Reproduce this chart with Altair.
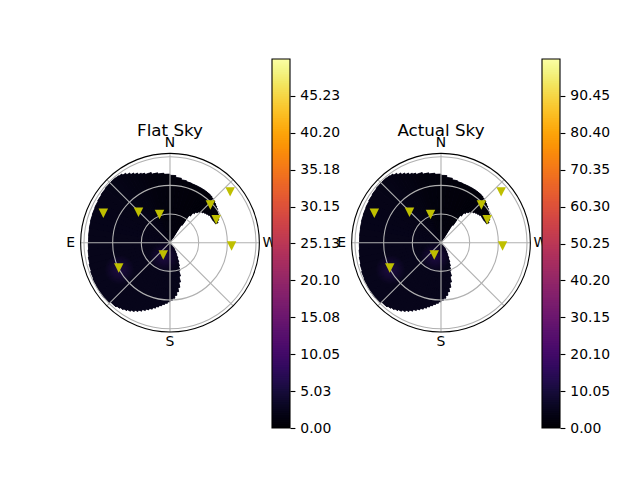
import altair as alt
import pandas as pd

# ---------------- data ----------------
TITLES = ["Flat Sky", "Actual Sky"]

# yellow markers (same positions in both panels): azimuth (deg, N=0, E=90) and zenith distance (deg)
MARK_AZ = [66.1, 46.0, 20.4, 313.0, 310.2, 296.5, 267.0, 151.4, 116.2]
MARK_ZEN = [76.3, 45.8, 31.5, 57.8, 82.4, 54.0, 64.5, 14.7, 59.8]

# filled sky region, by azimuth sector: sector edges (deg), inner / outer zenith distance (deg)
SKY_AZ_FROM = [292.5, 295, 297.5, 300, 302.5, 305, 307.5, 310, 312.5, 315, 317.5, 320, 322.5, 325, 327.5,
               330, 335, 340, 345, 350, 355, 0, 5, 10, 15,
               20, 22.5, 25, 27.5, 30, 32.5, 35, 37.5,
               40, 45, 50, 55, 60, 65, 70, 75, 80, 85, 90, 95, 100, 105, 110, 115, 120, 125, 130, 135,
               140, 142.5, 145, 147.5, 150, 152.5, 155, 157.5, 160, 162.5, 165, 167.5, 170, 172.5, 175, 177.5,
               180, 182.5, 185, 187.5, 190, 192.5, 195, 197.5, 200, 202.5, 205, 207.5, 210, 212.5, 215, 217.5]
SKY_AZ_TO = [295, 297.5, 300, 302.5, 305, 307.5, 310, 312.5, 315, 317.5, 320, 322.5, 325, 327.5, 330,
             335, 340, 345, 350, 355, 360, 5, 10, 15, 20,
             22.5, 25, 27.5, 30, 32.5, 35, 37.5, 40,
             45, 50, 55, 60, 65, 70, 75, 80, 85, 90, 95, 100, 105, 110, 115, 120, 125, 130, 135, 140,
             142.5, 145, 147.5, 150, 152.5, 155, 157.5, 160, 162.5, 165, 167.5, 170, 172.5, 175, 177.5, 180,
             182.5, 185, 187.5, 190, 192.5, 195, 197.5, 200, 202.5, 205, 207.5, 210, 212.5, 215, 217.5, 220]
SKY_R_IN = [51.5, 51.0, 50.5, 50.5, 50.5, 49.5, 48.5, 47.5, 46.0, 44.0, 42.0, 39.5, 35.0, 22.0, 6.0,
            0, 0, 0, 0, 0, 0, 0, 0, 0, 0,
            0, 0, 0, 0, 0, 0, 0, 0,
            0, 0, 0, 0, 0, 0, 0, 0, 0, 0, 0, 0, 0, 0, 0, 0, 0, 0, 0, 0,
            0, 0, 0, 0, 0, 0, 0, 0, 0, 0, 0, 0, 0, 0, 0, 0,
            0, 0, 0, 0, 0, 0, 0, 0, 0, 0, 0, 0, 0, 0, 0, 0]
SKY_R_OUT = [54.5, 56.5, 57.8, 58.8, 60.0, 61.0, 61.8, 62.8, 63.8, 64.6, 65.2, 65.5, 65.6, 65.7, 65.8,
             65.8, 65.8, 66.2, 67.0, 68.5, 70.5, 71.8, 73.0, 74.2, 76.0,
             77.5, 78.8, 80.5, 82.3, 84.3, 86.3, 87.8, 88.4,
             88.6, 88.5, 88.0, 87.4, 86.9, 86.5, 86.2, 85.8, 85.5, 85.3, 85.5, 86.1, 86.8, 87.6, 88.4, 89.1, 89.6, 89.9, 89.4, 87.8,
             86.6, 85.6, 84.3, 82.9, 81.3, 79.5, 77.6, 75.6, 73.8, 72.0, 70.2, 68.4, 66.6, 65.0, 63.5, 62.0,
             60.3, 58.3, 55.5, 52.0, 47.8, 42.5, 36.5, 30.8, 26.0, 22.0, 18.0, 14.0, 11.5, 8.5, 4.5, 1.5]
# colour level of each sector as a fraction of the colour-bar maximum
SKY_LEVEL = [0.010, 0.010, 0.010, 0.010, 0.010, 0.010, 0.010, 0.010, 0.010, 0.010, 0.010, 0.012, 0.012, 0.012, 0.012,
             0.014, 0.014, 0.015, 0.015, 0.016, 0.017, 0.018, 0.019, 0.020, 0.022,
             0.024, 0.026, 0.028, 0.030, 0.032, 0.034, 0.035, 0.036,
             0.038, 0.039, 0.040, 0.041, 0.042, 0.042, 0.043, 0.043, 0.044, 0.044, 0.045, 0.045, 0.046, 0.046, 0.046, 0.047, 0.047, 0.047, 0.047, 0.046,
             0.046, 0.046, 0.046, 0.046, 0.045, 0.045, 0.045, 0.045, 0.045, 0.045, 0.045, 0.045, 0.045, 0.045, 0.045, 0.045,
             0.045, 0.045, 0.045, 0.045, 0.045, 0.045, 0.045, 0.045, 0.045, 0.045, 0.045, 0.045, 0.045, 0.045, 0.045, 0.045]

# faint brighter spots in the sky map
GLOW_AZ = [118.0, 158.0]
GLOW_ZEN = [60.0, 16.0]

RINGS = [30, 60, 90]
SPOKES = [0, 45, 90, 135, 180, 225, 270, 315]
DIR_LABELS = ["N", "E", "S", "W"]
DIR_AZ = [0, 90, 180, 270]
R_MAX = 93.5
LABEL_R = 104.0
TITLE_R = 111.7

CBAR_MAX = [50.25, 100.5]
CBAR_TICKS = [
    [0.00, 5.03, 10.05, 15.08, 20.10, 25.13, 30.15, 35.18, 40.20, 45.23],
    [0.00, 10.05, 20.10, 30.15, 40.20, 50.25, 60.30, 70.35, 80.40, 90.45],
]

# ---------------- layout / style ----------------
K = 0.9556          # pixels per degree of zenith distance
H = 369             # panel height (px)
TOP_OFF, BOT_OFF = 183.7, 185.3
FONT = "DejaVu Sans"
GRID = "#b0b0b0"
MARKER = "#bfbf00"
UNDER = "#07051a"

sky_df = pd.DataFrame({"a0": SKY_AZ_FROM, "a1": SKY_AZ_TO, "r_in": SKY_R_IN,
                       "r_out": SKY_R_OUT, "level": SKY_LEVEL})
mk_df = pd.DataFrame({"az": MARK_AZ, "zen": MARK_ZEN})
glow_df = pd.DataFrame({"az": GLOW_AZ, "zen": GLOW_ZEN})
ring_df = pd.DataFrame({"r": RINGS})
spoke_df = pd.DataFrame({"az": SPOKES})
dir_df = pd.DataFrame({"lab": DIR_LABELS, "az": DIR_AZ})
spine_df = pd.DataFrame({"r": [R_MAX]})

XY_X = "-datum.zen*sin(datum.az*PI/180)"
XY_Y = "datum.zen*cos(datum.az*PI/180)"


def polar_panel(title, left_px, right_px):
    width = left_px + right_px
    xs = alt.Scale(domain=[-left_px / K, right_px / K], nice=False, zero=False)
    ys = alt.Scale(domain=[-BOT_OFF / K, TOP_OFF / K], nice=False, zero=False)
    rs = alt.Scale(type="linear", domain=[0, 90], range=[0, 90 * K], nice=False, zero=True)
    ts = alt.Scale(domain=[0, 360], range=[0, 6.283185307179586], reverse=True, nice=False, zero=False)
    cs = alt.Scale(scheme="inferno", domain=[0, 1])

    def X(f):
        return alt.X(f, type="quantitative", scale=xs, axis=None)

    def Y(f):
        return alt.Y(f, type="quantitative", scale=ys, axis=None)

    sky_base = alt.Chart(sky_df).transform_calculate(cx="0", cy="0")

    # dark under-layer hides the anti-aliasing seams between sectors
    under = sky_base.mark_arc(color=UNDER, stroke=UNDER, strokeWidth=0.8).encode(
        x=X("cx"), y=Y("cy"),
        theta=alt.Theta("a0:Q", scale=ts, stack=False), theta2=alt.Theta2("a1"),
        radius=alt.Radius("r_out:Q", scale=rs), radius2=alt.Radius2("r_in"),
    )
    sky = sky_base.mark_arc(strokeWidth=0).encode(
        x=X("cx"), y=Y("cy"),
        theta=alt.Theta("a0:Q", scale=ts, stack=False), theta2=alt.Theta2("a1"),
        radius=alt.Radius("r_out:Q", scale=rs), radius2=alt.Radius2("r_in"),
        color=alt.Color("level:Q", scale=cs, legend=None),
    )

    glow = alt.Chart(glow_df).transform_calculate(gx=XY_X, gy=XY_Y).mark_point(
        shape="circle", filled=True, size=900, opacity=1, strokeWidth=0,
        fill=alt.RadialGradient(
            gradient="radial",
            stops=[alt.GradientStop(color="rgba(40,14,84,0.7)", offset=0),
                   alt.GradientStop(color="rgba(40,14,84,0)", offset=1)],
            x1=0.5, y1=0.5, r1=0, x2=0.5, y2=0.5, r2=0.5),
    ).encode(x=X("gx"), y=Y("gy"))

    rings = alt.Chart(ring_df).transform_calculate(
        cx="0", cy="0", t0="0", t1="360"
    ).mark_arc(fillOpacity=0, stroke=GRID, strokeWidth=1.1).encode(
        x=X("cx"), y=Y("cy"),
        theta=alt.Theta("t0:Q", scale=ts, stack=False), theta2=alt.Theta2("t1"),
        radius=alt.Radius("r:Q", scale=rs),
    )

    spokes = alt.Chart(spoke_df).transform_calculate(
        x0="0", y0="0",
        x1=f"-{R_MAX}*sin(datum.az*PI/180)", y1=f"{R_MAX}*cos(datum.az*PI/180)"
    ).mark_rule(color=GRID, strokeWidth=1.1).encode(
        x=X("x0"), y=Y("y0"), x2=alt.X2("x1"), y2=alt.Y2("y1")
    )

    spine = alt.Chart(spine_df).transform_calculate(
        cx="0", cy="0", t0="0", t1="360"
    ).mark_arc(fillOpacity=0, stroke="black", strokeWidth=1.1).encode(
        x=X("cx"), y=Y("cy"),
        theta=alt.Theta("t0:Q", scale=ts, stack=False), theta2=alt.Theta2("t1"),
        radius=alt.Radius("r:Q", scale=rs),
    )

    marks = alt.Chart(mk_df).transform_calculate(mx=XY_X, my=XY_Y).mark_point(
        shape="M-1,-1L1,-1L0,1Z", filled=True, size=90, color=MARKER, opacity=1
    ).encode(x=X("mx"), y=Y("my"))

    dirs = alt.Chart(dir_df).transform_calculate(
        lx=f"-{LABEL_R}*sin(datum.az*PI/180)", ly=f"{LABEL_R}*cos(datum.az*PI/180)"
    ).mark_text(font=FONT, fontSize=13.9, color="black", align="center", baseline="middle").encode(
        x=X("lx"), y=Y("ly"), text="lab:N"
    )

    ttl = alt.Chart(pd.DataFrame({"t": [title]})).transform_calculate(
        tx="0", ty=f"{TITLE_R}"
    ).mark_text(font=FONT, fontSize=16.7, color="black", align="center", baseline="alphabetic").encode(
        x=X("tx"), y=Y("ty"), text="t:N"
    )

    return alt.layer(under, sky, glow, rings, spokes, spine, marks, dirs, ttl).properties(width=width, height=H)


def colorbar(vmax, ticks):
    ys = alt.Scale(domain=[0, vmax], nice=False, zero=False)
    ax = alt.Axis(orient="right", values=ticks, format=".2f", labelFont=FONT, labelFontSize=13.9,
                  labelColor="black", tickColor="black", tickWidth=1.1, tickSize=4.9,
                  labelPadding=4.9, domain=False, grid=False, title=None)
    n = 200
    bar = alt.Chart(alt.sequence(0, n, as_="i")).transform_calculate(
        lo=f"datum.i*{vmax}/{n}",
        hi=f"min((datum.i+1.6)*{vmax}/{n}, {vmax})",
        mid=f"(datum.i+0.5)*{vmax}/{n}",
    ).mark_rect().encode(
        y=alt.Y("lo:Q", scale=ys, axis=ax), y2=alt.Y2("hi"),
        x=alt.value(0), x2=alt.value(18),
        color=alt.Color("mid:Q", scale=alt.Scale(scheme="inferno", domain=[0, vmax]), legend=None),
    )
    frame = alt.Chart(pd.DataFrame({"a": [0.0], "b": [vmax]})).mark_rect(
        fillOpacity=0, stroke="black", strokeWidth=1.1
    ).encode(
        y=alt.Y("a:Q", scale=ys, axis=ax), y2=alt.Y2("b"),
        x=alt.value(0), x2=alt.value(18),
    )
    return alt.layer(bar, frame).properties(width=18, height=H)


p1 = polar_panel(TITLES[0], 110, 92)
c1 = colorbar(CBAR_MAX[0], CBAR_TICKS[0])
p2 = polar_panel(TITLES[1], 141, 91)
c2 = colorbar(CBAR_MAX[1], CBAR_TICKS[1])

chart = alt.hconcat(p1, c1, p2, c2, spacing=10, bounds="flush").resolve_scale(
    color="independent"
).properties(
    padding={"left": 52, "top": 50, "right": 4, "bottom": 4}
).configure(font=FONT).configure_view(strokeWidth=0, stroke="transparent")

chart.save("out.html", embed_options={"renderer": "svg", "actions": False})
